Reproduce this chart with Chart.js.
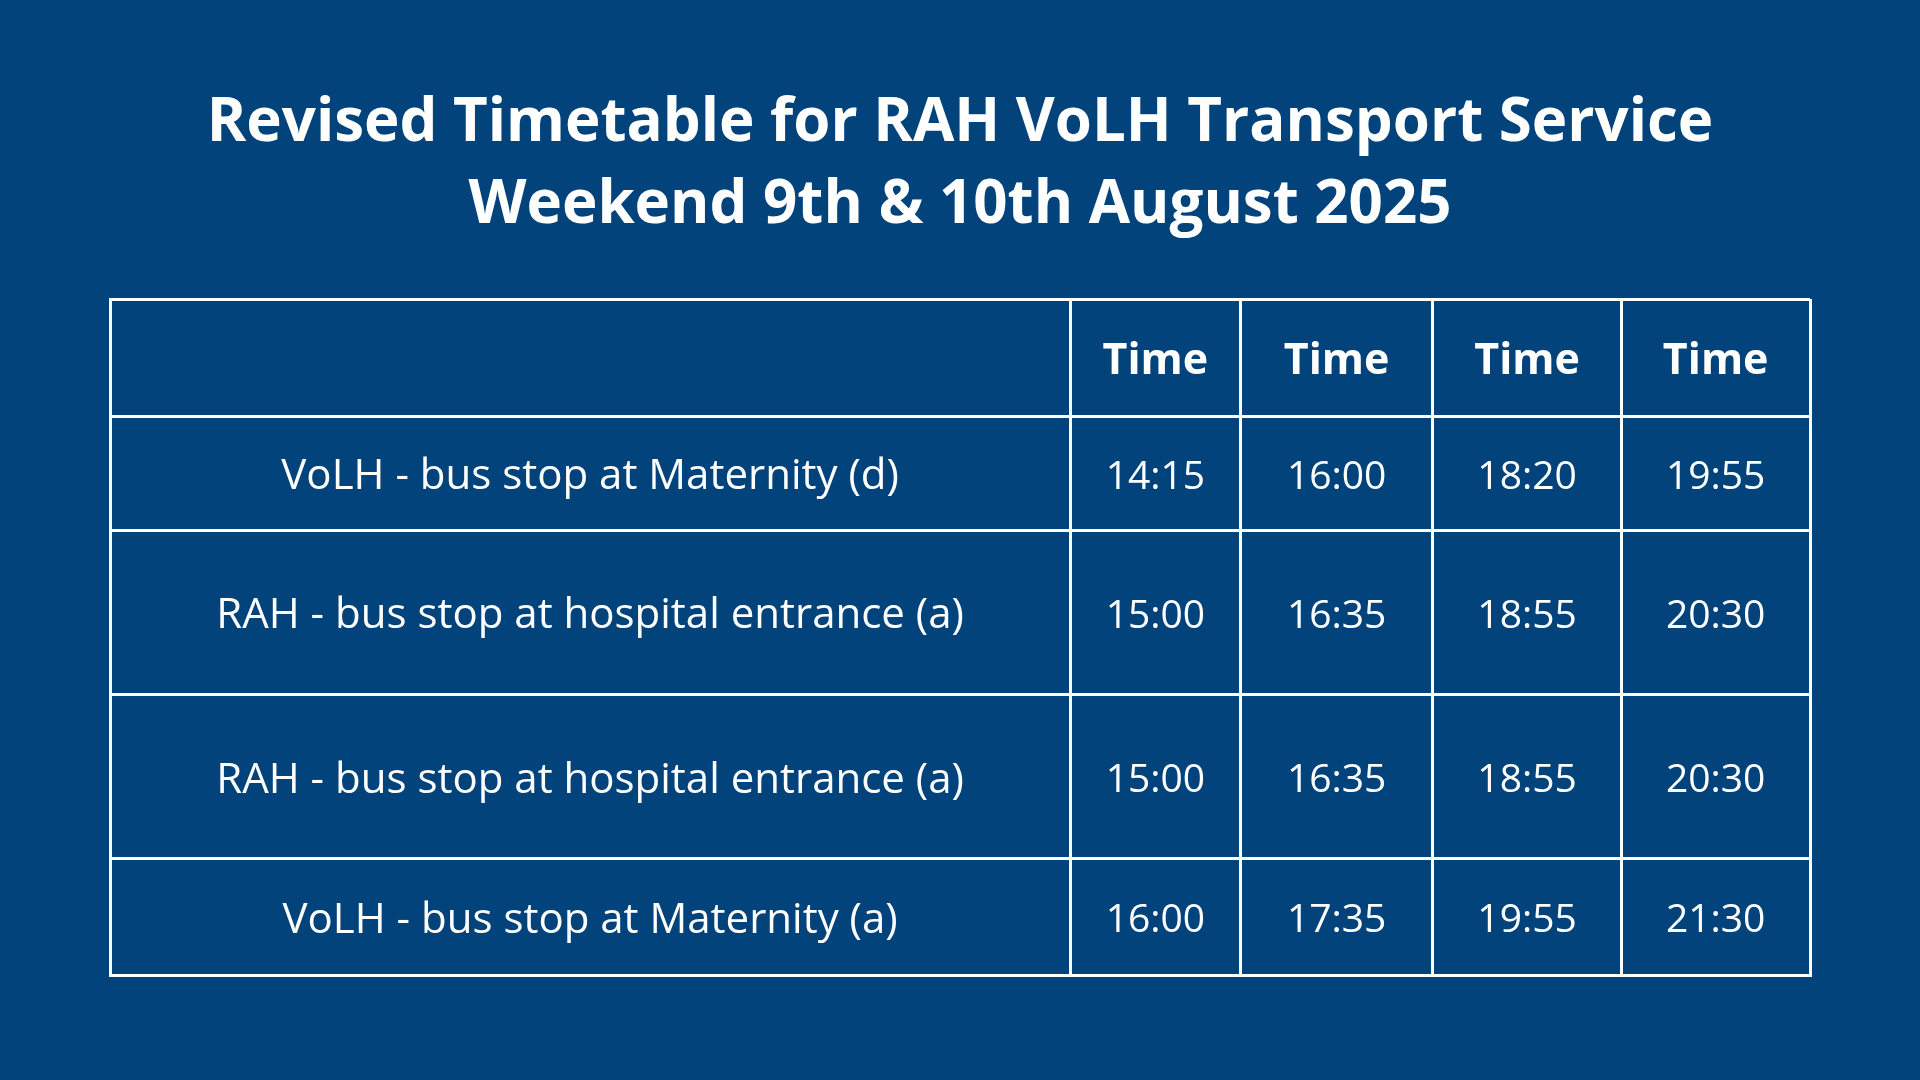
<!DOCTYPE html>
<html>
<head>
<meta charset="utf-8">
<script src="https://cdn.jsdelivr.net/npm/chart.js@4"></script>
<style>
  html, body { margin: 0; padding: 0; background: #03437b; }
  #wrap { width: 1920px; height: 1080px; }
</style>
</head>
<body>
<div id="wrap"><canvas id="table"></canvas></div>
<script>
// Data
const titleLines = ['Revised Timetable for RAH VoLH Transport Service', 'Weekend 9th & 10th August 2025'];
const headers = ['', 'Time', 'Time', 'Time', 'Time'];
const stops = [
  'VoLH - bus stop at Maternity (d)',
  'RAH - bus stop at hospital entrance (a)',
  'RAH - bus stop at hospital entrance (a)',
  'VoLH - bus stop at Maternity (a)'
];
const times1 = ['14:15', '15:00', '15:00', '16:00'];
const times2 = ['16:00', '16:35', '16:35', '17:35'];
const times3 = ['18:20', '18:55', '18:55', '19:55'];
const times4 = ['19:55', '20:30', '20:30', '21:30'];

// Layout (grid edges in reference units)
const colEdges = [90, 874, 1013, 1170, 1324, 1478];
const rowEdges = [244, 340, 433, 567, 701, 796];
const white = '#ffffff';
const font = '"Open Sans", "Noto Sans", sans-serif';

const tablePlugin = {
  id: 'tableText',
  afterDraw(chart) {
    const ctx = chart.ctx;
    const x = chart.scales.x, y = chart.scales.y;
    ctx.save();
    ctx.fillStyle = white;
    ctx.textAlign = 'center';
    ctx.textBaseline = 'middle';
    // title
    ctx.font = `bold 60px ${font}`;
    ctx.fillText(titleLines[0], chart.width / 2, 124);
    ctx.fillText(titleLines[1], chart.width / 2, 206);

    const cx = i => x.getPixelForValue((colEdges[i] + colEdges[i + 1]) / 2);
    const cy = j => y.getPixelForValue((rowEdges[j] + rowEdges[j + 1]) / 2) + 4;
    ctx.font = `bold 43px ${font}`;
    headers.forEach((h, i) => ctx.fillText(h, cx(i), cy(0)));
    ctx.font = `42px ${font}`;
    stops.forEach((v, j) => ctx.fillText(v, cx(0), cy(j + 1)));
    ctx.font = `39px ${font}`;
    [times1, times2, times3, times4].forEach((col, i) =>
      col.forEach((v, j) => ctx.fillText(v, cx(i + 1), cy(j + 1))));
    ctx.restore();
  }
};

const gridOpts = { color: white, lineWidth: 3, drawTicks: false };
const borderOpts = { display: true, color: white, width: 3 };

new Chart(document.getElementById('table'), {
  type: 'scatter',
  data: { datasets: [{ data: [] }] },
  options: {
    responsive: true,
    maintainAspectRatio: false,
    animation: false,
    layout: { padding: { left: 110, right: 110, top: 299, bottom: 105 } },
    plugins: { legend: { display: false }, tooltip: { enabled: false }, title: { display: false } },
    scales: {
      x: {
        type: 'linear', min: colEdges[0], max: colEdges[colEdges.length - 1],
        afterBuildTicks: s => { s.ticks = colEdges.map(v => ({ value: v })); },
        ticks: { display: false }, grid: gridOpts, border: borderOpts
      },
      y: {
        type: 'linear', reverse: true, min: rowEdges[0], max: rowEdges[rowEdges.length - 1],
        afterBuildTicks: s => { s.ticks = rowEdges.map(v => ({ value: v })); },
        ticks: { display: false }, grid: gridOpts, border: borderOpts
      }
    }
  },
  plugins: [tablePlugin]
});
</script>
</body>
</html>
